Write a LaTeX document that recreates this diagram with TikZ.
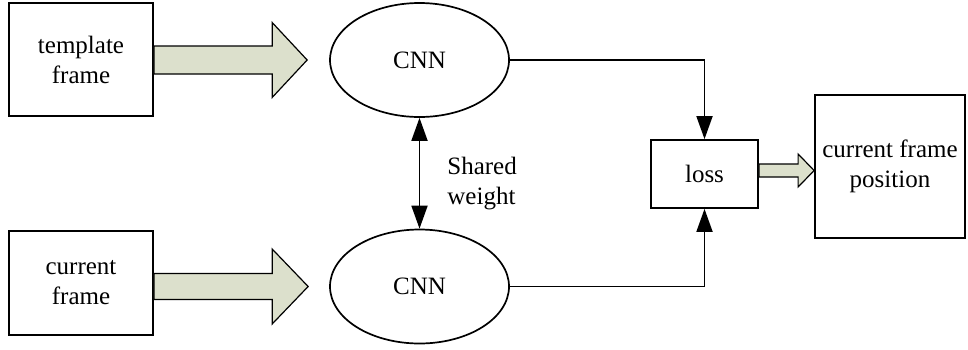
\documentclass[tikz,border=0pt]{standalone}
\usepackage{fontspec}
\setmainfont{Liberation Serif}
\usetikzlibrary{shapes,arrows.meta,positioning,calc}
\definecolor{arrowfill}{RGB}{220,224,204}

\tikzset{
  box/.style={draw, line width=0.9pt, align=center, inner sep=2pt},
  cnn/.style={draw, ellipse, line width=0.85pt, minimum width=89.5pt, minimum height=57pt, inner sep=0pt},
  conn/.style={line width=0.9pt, -{Triangle[length=11.5pt,width=8pt]}},
  fatarrow/.style n args={3}{draw=black, line width=0.6pt, fill=arrowfill,
    to path={let \p1=(\tikztostart), \p2=(\tikztotarget) in
      (\x1,\y2+#1) -- (\x2-#3,\y2+#1) -- (\x2-#3,\y2+#2) -- (\x2,\y2)
      -- (\x2-#3,\y2-#2) -- (\x2-#3,\y2-#1) -- (\x1,\y2-#1) -- cycle}}
}

\begin{document}
\begin{tikzpicture}[x=0.5pt, y=-0.5pt, font=\fontsize{12.5}{15}\selectfont]
\useasboundingbox (0,0) rectangle (968,349);
% Input frames
\node[box, minimum width=72pt, minimum height=56.5pt] (tframe) at (81,59.5) {template\\frame};
\node[box, minimum width=72pt, minimum height=52pt] (cframe) at (81,283) {current\\frame};
% Twin networks
\node[cnn] (cnn1) at (419.5,60) {CNN};
\node[cnn] (cnn2) at (419.5,286.5) {CNN};
\node[align=left, anchor=west, inner sep=0pt] (shared) at (447,184) {Shared\\weight};
% Loss and output
\node[box, minimum width=53.5pt, minimum height=34pt] (loss) at (704.5,174) {loss};
\node[box, minimum width=75pt, minimum height=71.5pt] (pos) at (890,166.5) {current frame\\position};

% Fat arrows
\path[fatarrow={7pt}{18.75pt}{17.5pt}] (tframe.east) to ([xshift=-11pt]cnn1.west);
\path[fatarrow={6.5pt}{18.75pt}{18pt}] (cframe.east) to ([xshift=-10.5pt]cnn2.west);
\path[fatarrow={3.25pt}{8.25pt}{8pt}] (loss.east) to ([yshift=-2pt]pos.west);

% Arrows
\draw[conn] (cnn1.east) -| (loss.north);
\draw[conn] (cnn2.east) -| (loss.south);
\draw[conn, {Triangle[length=11.5pt,width=8pt]}-{Triangle[length=11.5pt,width=8pt]}] (cnn1.south) -- (cnn2.north);
\end{tikzpicture}
\end{document}
